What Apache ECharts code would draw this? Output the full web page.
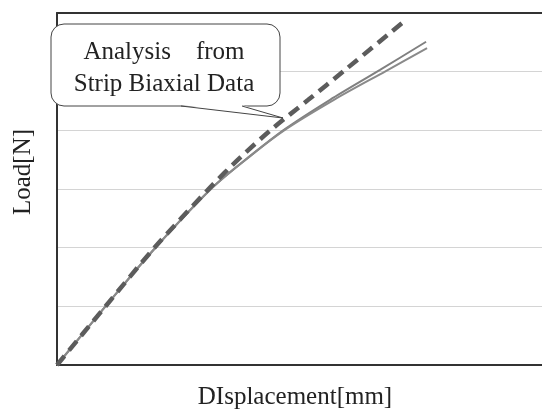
<!DOCTYPE html>
<html>
<head>
<meta charset="utf-8">
<script src="https://cdn.jsdelivr.net/npm/echarts@6/dist/echarts.min.js"></script>
<style>html,body{margin:0;padding:0;background:#fff;}#c{width:542px;height:411px;}</style>
</head>
<body>
<div id="c"></div>
<script>
// Displacement / load values (arbitrary units, no tick labels in the original)
const solidAX = [0, 0.99, 2.02, 3.20, 3.98, 4.70, 5.63, 6.66, 7.61];
const solidAY = [0, 0.99, 1.99, 3.02, 3.56, 4.02, 4.52, 5.03, 5.51];
const solidBX = [0, 0.99, 2.02, 3.20, 3.98, 4.72, 5.71, 6.78, 7.63];
const solidBY = [0, 0.99, 1.99, 3.02, 3.56, 4.02, 4.52, 5.01, 5.40];
const dashX = [0, 0.99, 2.00, 3.15, 3.77, 4.43, 5.18, 5.94, 7.22];
const dashY = [0, 0.99, 1.99, 3.02, 3.53, 4.02, 4.52, 5.03, 5.90];
const xTitle = 'DIsplacement[mm]';
const yTitle = 'Load[N]';
const calloutLines = ['Analysis\u3000from', 'Strip Biaxial Data'];

function pairs(xs, ys){ return xs.map((x,i)=>[x, ys[i]]); }

const FONT = '"Liberation Serif", "DejaVu Serif", serif';
const chart = echarts.init(document.getElementById('c'), null, {renderer:'canvas'});
chart.setOption({
  backgroundColor: '#ffffff',
  animation: false,
  grid: {left: 57, right: 0, top: 13, bottom: 46},
  xAxis: [{
    type: 'value', min: 0, max: 10, position: 'bottom',
    axisLine: {show: true, onZero: false, lineStyle: {color: '#333', width: 2}},
    axisTick: {show: false}, axisLabel: {show: false}, splitLine: {show: false}
  }, {
    type: 'value', min: 0, max: 10, position: 'top',
    axisLine: {show: true, onZero: false, lineStyle: {color: '#333', width: 2}},
    axisTick: {show: false}, axisLabel: {show: false}, splitLine: {show: false}
  }],
  yAxis: {
    type: 'value', min: 0, max: 6, interval: 1,
    axisLine: {show: true, onZero: false, lineStyle: {color: '#333', width: 2}},
    axisTick: {show: false}, axisLabel: {show: false},
    splitLine: {show: true, lineStyle: {color: '#d4d4d4', width: 1.2}}
  },
  series: [{
    type: 'line', data: pairs(solidAX, solidAY), smooth: 0.3, symbol: 'none',
    lineStyle: {color: '#808080', width: 2}
  }, {
    type: 'line', data: pairs(solidBX, solidBY), smooth: 0.3, symbol: 'none',
    lineStyle: {color: '#8a8a8a', width: 2}
  }, {
    type: 'line', data: pairs(dashX, dashY), smooth: 0.3, symbol: 'none',
    lineStyle: {color: '#5c5c5c', width: 4.5, type: [12, 7]}
  }],
  graphic: [
    {type: 'rect', shape: {x: 51, y: 24, width: 229, height: 82, r: 13},
     style: {fill: '#fff', stroke: '#444', lineWidth: 1}, z: 100},
    {type: 'polygon', shape: {points: [[181, 105], [242, 105], [283, 118]]},
     style: {fill: '#fff', stroke: null}, z: 101},
    {type: 'polyline', shape: {points: [[181, 106], [283, 118], [242, 106]]},
     style: {fill: null, stroke: '#444', lineWidth: 1}, z: 102},
    {type: 'text', x: 164, y: 52, z: 103,
     style: {text: calloutLines[0], font: '25px ' + FONT, fill: '#222', align: 'center', verticalAlign: 'middle'}},
    {type: 'text', x: 164, y: 84, z: 103,
     style: {text: calloutLines[1], font: '25px ' + FONT, fill: '#222', align: 'center', verticalAlign: 'middle'}},
    {type: 'text', x: 295, y: 397, z: 103,
     style: {text: xTitle, font: '25px ' + FONT, fill: '#222', align: 'center', verticalAlign: 'middle'}},
    {type: 'text', x: 23, y: 172, rotation: Math.PI / 2, z: 103,
     style: {text: yTitle, font: '25px ' + FONT, fill: '#222', align: 'center', verticalAlign: 'middle'}}
  ]
});
</script>
</body>
</html>
